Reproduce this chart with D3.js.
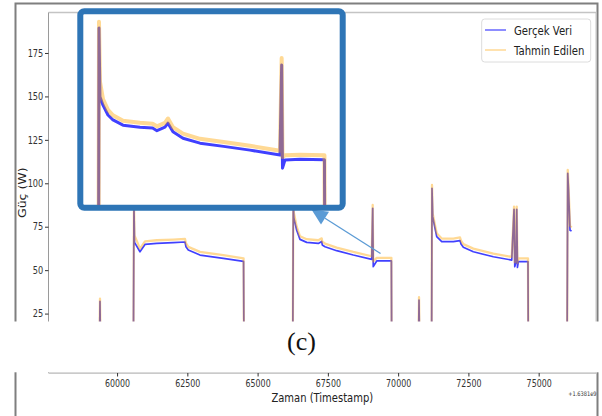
<!DOCTYPE html>
<html><head><meta charset="utf-8">
<script src="https://cdn.jsdelivr.net/npm/d3@7"></script>
<style>body{margin:0;background:#fff}svg{display:block}</style>
</head><body><svg id="c" width="602" height="416"></svg>
<script>
// ---------- DATA ----------
const mainTime = [58000,59370,59392,59414,60580,60600,60620,60815,60993,61410,62000,62417,62450,62534,62950,63780,64500,64516,66250,66270,66290,66391,66508,66747,67160,67281,67300,67398,67814,68405,69060,69095,69115,69238,69760,69771,70720,70743,70766,71190,71205,71230,71312,71373,71551,71963,72202,72237,72320,72676,73387,74042,74124,74150,74195,74220,74245,74277,74620,74632,76010,76034,76060,76116,76170];
const mainActual = [0,0,32,0,0,88,66,60.6,64.8,65.4,65.8,66.2,63.5,61.6,58.7,56.8,55.0,0,0,88,80,73,67.7,66,65.4,66.5,64.5,63.5,61.2,58.7,56.2,85.6,52,55.3,55.3,0,0,32.8,0,0,97.1,80.8,74,69.3,66.4,66.4,67,65,63.2,60.6,57.7,55.8,85,52,55,85,51.6,54.9,54.9,0,0,105.7,97,73,72.5];
const mainPredicted = [0,0,33.6,0,0,90,70,62.4,66.6,67.2,67.6,68.0,65.5,63.4,60.5,58.6,56.8,0,0,90,83,75,69.5,67.8,67.2,68.3,66.4,65.3,63.0,60.5,58.0,87.5,55,57.1,57.1,0,0,34.4,0,0,99,82.5,75.8,71.2,68.2,68.2,68.8,67.0,65.0,62.4,59.5,57.6,86.6,54.5,56.9,86.6,54,56.8,56.8,0,0,107.7,99,75.5,74.5];

const insetTime = [66262,66270,66285,66332,66409,66487,66642,66905,67100,67168,67292,67339,67416,67571,67835,68200,68609,69074,69100,69113,69151,69384,69763,69771];
const insetActual = [0,100.0,76.3,73.4,70.0,68.3,66.5,65.8,65.5,64.6,65.8,67.2,64.2,62.0,60.3,59.2,57.9,56.2,87.2,51.7,54.5,54.8,54.6,0];
const insetPredicted = [0,102.1,81.5,75.5,71.8,69.9,68.0,67.3,67.0,66.1,67.3,68.8,65.8,63.6,61.8,60.7,59.4,57.7,89.6,55.5,56.1,56.3,56.1,0];

const yTickValues = [0,25,50,75,100,125,150,175];
const xTickValues = [60000,62500,65000,67500,70000,72500,75000];
const seriesNames = ["Gerçek Veri","Tahmin Edilen"];
const xLabelText = "Zaman (Timestamp)";
const yLabelText = "Güç (W)";
const offsetText = "+1.6381e9";
const panelText = "(c)";
const arrowFrom = [69373, 59.6];
const arrowTo = [67398, 79.9];

// ---------- STYLE / LAYOUT ----------
const FONT = "'DejaVu Sans', sans-serif";
const BLUE = "#0000ff", ORANGE = "#ffa500";
const BLUE_OP = 0.75, ORANGE_OP = 0.42;
const P = {l:48.5, r:596, t:12.5, b:373};
const INSET = {x0:83.3, x1:339.3, y0:14, y1:205};

const svg = d3.select("#c");
const defs = svg.append("defs");

const x = d3.scaleLinear().domain([57560, 77040]).range([P.l, P.r]);
const y = d3.scaleLinear().domain([-9.2, 198.3]).range([P.b, P.t]);

defs.append("clipPath").attr("id","mainClip").append("rect")
  .attr("x",P.l).attr("y",P.t).attr("width",P.r-P.l).attr("height",P.b-P.t);
defs.append("clipPath").attr("id","insetClip").append("rect")
  .attr("x",INSET.x0).attr("y",INSET.y0).attr("width",INSET.x1-INSET.x0).attr("height",INSET.y1-INSET.y0);

// outer frame
svg.append("path").attr("d",`M15.5,416 V3.5 H597.5 V416`)
  .attr("fill","none").attr("stroke","#7f7f7f").attr("stroke-width",2);

// spines
const sp = svg.append("g");
sp.append("line").attr("x1",P.l).attr("x2",P.r).attr("y1",P.t).attr("y2",P.t).attr("stroke","#c4c4c4").attr("stroke-width",1.3);
sp.append("line").attr("x1",P.l).attr("x2",P.l).attr("y1",P.t).attr("y2",P.b).attr("stroke","#9a9a9a").attr("stroke-width",1);
sp.append("line").attr("x1",P.r).attr("x2",P.r).attr("y1",P.t).attr("y2",P.b).attr("stroke","#c4c4c4").attr("stroke-width",1);
sp.append("line").attr("x1",P.l).attr("x2",P.r).attr("y1",P.b).attr("y2",P.b).attr("stroke","#b8b8b8").attr("stroke-width",1.5);

// axes
const ya = svg.append("g").attr("transform",`translate(${P.l},0)`)
  .call(d3.axisLeft(y).tickValues(yTickValues).tickSize(3.5).tickFormat(d3.format("d")));
ya.select(".domain").remove();
ya.selectAll("line").attr("stroke","#333");
ya.selectAll("text").attr("x",-6.4).attr("font-family",FONT).attr("font-size",10)
  .attr("fill","#333").attr("transform","scale(0.82,1)");

const xa = svg.append("g").attr("transform",`translate(0,${P.b})`)
  .call(d3.axisBottom(x).tickValues(xTickValues).tickSize(3.5).tickPadding(3).tickFormat(d3.format("d")));
xa.select(".domain").remove();
xa.selectAll("line").attr("stroke","#333");
xa.selectAll("text").attr("font-family",FONT).attr("font-size",10)
  .attr("fill","#333").attr("transform","scale(0.79,1)");

// main data
const dg = svg.append("g").attr("clip-path","url(#mainClip)");
const mline = vals => d3.line().x((d,i)=>x(mainTime[i])).y(d=>y(d))(vals);
dg.append("path").attr("d",mline(mainActual)).attr("fill","none")
  .attr("stroke",BLUE).attr("stroke-opacity",BLUE_OP).attr("stroke-width",1.7).attr("stroke-linejoin","round");
dg.append("path").attr("d",mline(mainPredicted)).attr("fill","none")
  .attr("stroke",ORANGE).attr("stroke-opacity",ORANGE_OP).attr("stroke-width",2.3).attr("stroke-linejoin","round");

// legend
const lg = svg.append("g");
lg.append("rect").attr("x",481.7).attr("y",19).attr("width",109).attr("height",43).attr("rx",3)
  .attr("fill","#fff").attr("fill-opacity",0.85).attr("stroke","#dcdcdc").attr("stroke-width",1);
[[BLUE,BLUE_OP*0.8],[ORANGE,ORANGE_OP]].forEach(([c,o],i)=>{
  const yy = 30 + i*20;
  lg.append("line").attr("x1",485).attr("x2",506).attr("y1",yy).attr("y2",yy)
    .attr("stroke",c).attr("stroke-opacity",o).attr("stroke-width",1.5);
  lg.append("text").attr("transform",`translate(514,${yy+4.5}) scale(0.79,1)`)
    .attr("font-family",FONT).attr("font-size",12.8).attr("fill","#222").text(seriesNames[i]);
});

// axis labels
svg.append("text").attr("transform",`translate(${(P.l+P.r)/2},401.5) scale(0.78,1)`)
  .attr("text-anchor","middle").attr("font-family",FONT).attr("font-size",12.8).attr("fill","#222").text(xLabelText);
svg.append("text").attr("transform",`translate(26,${(P.t+P.b)/2}) scale(0.79,1) rotate(-90)`)
  .attr("text-anchor","middle").attr("font-family",FONT).attr("font-size",12.5).attr("fill","#222").text(yLabelText);
svg.append("text").attr("transform",`translate(596.5,396) scale(0.82,1)`)
  .attr("text-anchor","end").attr("font-family",FONT).attr("font-size",6.2).attr("fill","#333").text(offsetText);

// white strip with panel label
svg.append("rect").attr("x",0).attr("y",321.5).attr("width",602).attr("height",50.8).attr("fill","#fff");
svg.append("text").attr("x",301.5).attr("y",349.5).attr("text-anchor","middle")
  .attr("font-family","'Liberation Serif', 'Times New Roman', serif").attr("font-size",26).attr("fill","#111").text(panelText);

// arrow
const ax0 = x(arrowFrom[0]), ay0 = y(arrowFrom[1]);
const ax1 = x(arrowTo[0]), ay1 = y(arrowTo[1]);
const L = Math.hypot(ax1-ax0, ay1-ay0), ux=(ax1-ax0)/L, uy=(ay1-ay0)/L;
svg.append("line").attr("x1",ax0).attr("y1",ay0).attr("x2",ax1).attr("y2",ay1)
  .attr("stroke","#5b9bd5").attr("stroke-width",1.3);
const hw=7.5, hl=16;
svg.append("polygon").attr("points",[
  [ax1 - uy*hw, ay1 + ux*hw], [ax1 + uy*hw, ay1 - ux*hw], [ax1 + ux*hl, ay1 + uy*hl]
].map(p=>p.join(",")).join(" ")).attr("fill","#5b9bd5");

// inset
const xi = d3.scaleLinear().domain([66027, 69993]).range([INSET.x0, INSET.x1]);
const yi = d3.scaleLinear().domain([39, 104.8]).range([INSET.y1, INSET.y0]);
svg.append("rect").attr("x",80.3).attr("y",11.2).attr("width",262.4).attr("height",196.5).attr("rx",4)
  .attr("fill","#fff").attr("stroke","#2e75b6").attr("stroke-width",6);
const ig = svg.append("g").attr("clip-path","url(#insetClip)");
const iline = vals => d3.line().x((d,i)=>xi(insetTime[i])).y(d=>yi(d))(vals);
ig.append("path").attr("d",iline(insetActual)).attr("fill","none")
  .attr("stroke",BLUE).attr("stroke-opacity",BLUE_OP).attr("stroke-width",3.0).attr("stroke-linejoin","round");
ig.append("path").attr("d",iline(insetPredicted)).attr("fill","none")
  .attr("stroke",ORANGE).attr("stroke-opacity",ORANGE_OP).attr("stroke-width",4.0).attr("stroke-linejoin","round");
</script></body></html>
